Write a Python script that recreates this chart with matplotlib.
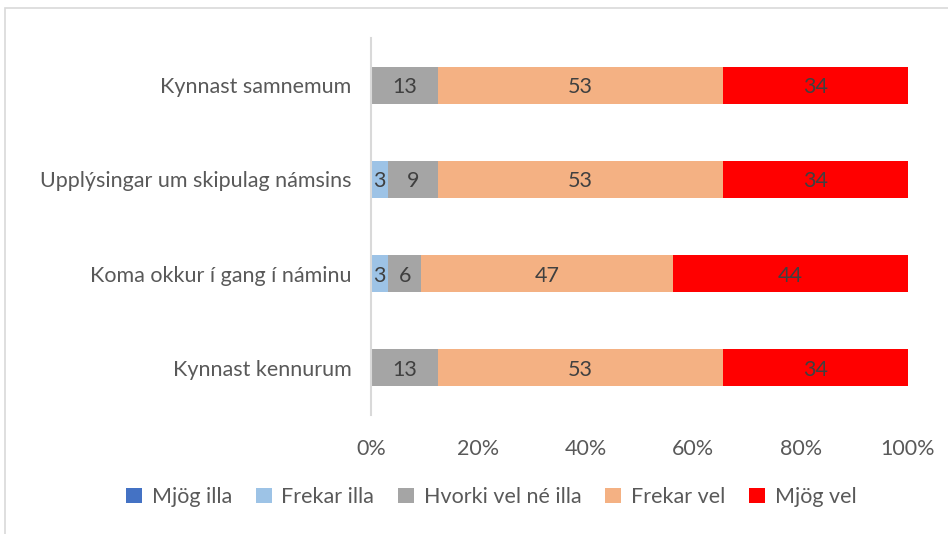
import matplotlib.pyplot as plt
from matplotlib.patches import Rectangle

plt.rcParams['font.family'] = ['Lato', 'DejaVu Sans']

# categories, bottom to top
categories = ['Kynnast kennurum', 'Koma okkur í gang í náminu',
              'Upplýsingar um skipulag námsins', 'Kynnast samnemum']
series = ['Mjög illa', 'Frekar illa', 'Hvorki vel né illa', 'Frekar vel', 'Mjög vel']
colors = ['#4472C4', '#9DC3E6', '#A5A5A5', '#F4B183', '#FF0000']

# percentages per series (n=32)
mjog_illa = [0, 0, 0, 0]
frekar_illa = [0, 3.125, 3.125, 0]
hvorki = [12.5, 6.25, 9.375, 12.5]
frekar_vel = [53.125, 46.875, 53.125, 53.125]
mjog_vel = [34.375, 43.75, 34.375, 34.375]
values = [mjog_illa, frekar_illa, hvorki, frekar_vel, mjog_vel]

fig = plt.figure(figsize=(9.48, 5.34), dpi=100)
ax = fig.add_axes([371 / 948, 1 - 415 / 534, (908 - 371) / 948, (415 - 38) / 534])

# outer chart border
fig.patches.append(Rectangle((4.5 / 948, -0.1), 1.2, 1 - 8.5 / 534 + 0.1,
                             transform=fig.transFigure, fill=False,
                             edgecolor='#D9D9D9', linewidth=1.2))

ypos = range(len(categories))
left = [0] * len(categories)
for name, vals, col in zip(series, values, colors):
    bars = ax.barh(ypos, vals, left=left, height=0.39, color=col, label=name)
    for b, v in zip(bars, vals):
        if v > 0:
            ax.text(b.get_x() + b.get_width() / 2, b.get_y() + b.get_height() / 2 - 0.02,
                    f'{int(v + 0.5)}', ha='center', va='center', fontsize=15.5,
                    color='#404040')
    left = [l + v for l, v in zip(left, vals)]

ax.set_xlim(0, 100)
ax.set_ylim(-0.5, 3.5)
ax.set_yticks(list(ypos))
ax.set_yticklabels(categories, fontsize=15.5, color='#595959')
ax.set_xticks([0, 20, 40, 60, 80, 100])
ax.set_xticklabels([f'{t}%' for t in [0, 20, 40, 60, 80, 100]], fontsize=15.5, color='#595959')
ax.tick_params(axis='y', length=0, pad=14)
ax.tick_params(axis='x', length=0, pad=17)
for s in ['top', 'right', 'bottom']:
    ax.spines[s].set_visible(False)
ax.spines['left'].set_color('#D9D9D9')
ax.spines['left'].set_linewidth(1.5)

leg = fig.legend(loc='center', bbox_to_anchor=(491 / 948, 1 - 497 / 534), ncol=5,
                 frameon=False, fontsize=15.5, handlelength=0.75, handleheight=0.75,
                 columnspacing=1.1, handletextpad=0.45)
for t in leg.get_texts():
    t.set_color('#595959')

fig.savefig('out.png', dpi=100)
